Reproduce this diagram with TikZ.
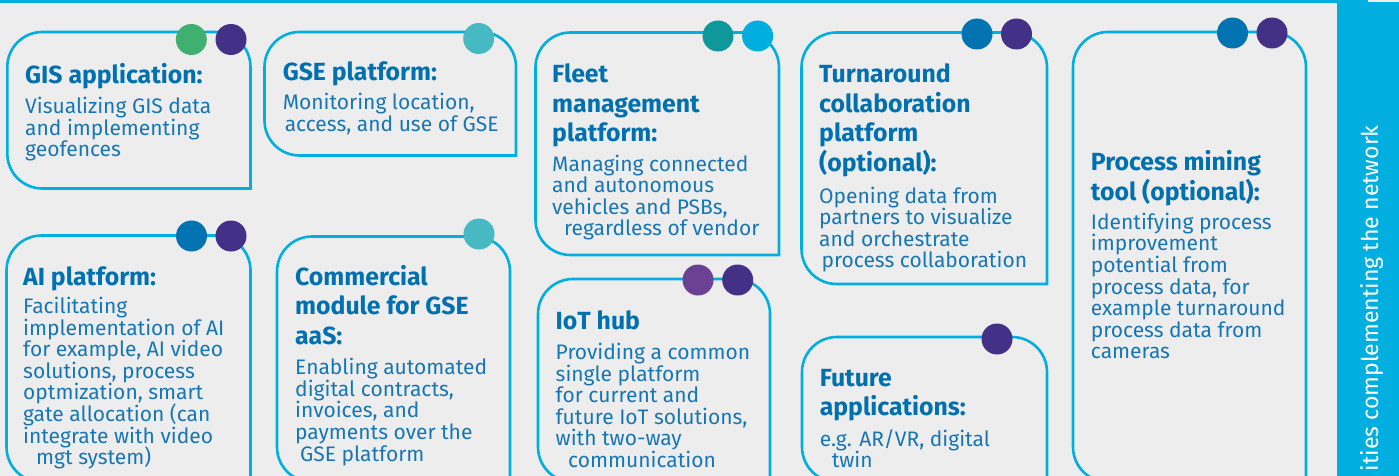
\documentclass[tikz,border=0pt]{standalone}
\usepackage{fontspec}
\newfontfamily\bodyfont{Fira Sans}
\definecolor{bg}{RGB}{237,237,237}
\definecolor{cyanline}{RGB}{0,174,224}
\definecolor{txtblue}{RGB}{0,112,176}
\definecolor{bodyblue}{RGB}{22,118,180}
\definecolor{dgreen}{RGB}{64,176,112}
\definecolor{dpurple}{RGB}{67,48,135}
\definecolor{dteal}{RGB}{70,185,195}
\definecolor{dtealdark}{RGB}{14,152,155}
\definecolor{dblue}{RGB}{0,115,176}
\definecolor{dviolet}{RGB}{107,65,148}
\newcommand\mystack[1]{\vtop{\lineskiplimit=-100pt\lineskip=0pt\let\\\cr\halign{##\hfil\cr#1\crcr}}}
\newcommand\mycard[4]{\draw[cardline] (#3,#4) -- (#1,#4) -- (#1,#2) -- (#3,#2) -- (#3,#4);}
\tikzset{
  cardline/.style={draw=cyanline, line width=2.6, rounded corners=35, line cap=rect},
  dot/.style={circle, inner sep=0, minimum size=31, draw=none},
  titletxt/.style={anchor=base west, inner sep=0, text=txtblue, font=\bodyfont\bfseries\fontsize{24.8}{29.6}\selectfont},
  bodytxt/.style={anchor=base west, inner sep=0, text=bodyblue, font=\bodyfont\fontsize{21}{21.6}\selectfont},
}
\begin{document}
\begin{tikzpicture}[x=1pt,y=-1pt]
\useasboundingbox (0,0) rectangle (1399,476);
\clip (0,0) rectangle (1399,476);
\fill[bg] (0,0) rectangle (1399,476);
% top rule and side band
\draw[cyanline, line width=3] (0,1.8) -- (1368,1.8);
\fill[cyanline] (1337,2) rectangle (1399,476);
\node[rotate=90, anchor=base east, inner sep=0, text=white, font=\bodyfont\fontsize{23.1}{26}\selectfont] (band) at (1378,125) {ities complementing the network};
% cards
\mycard{7.3}{32}{250.5}{188.5}
\mycard{264.5}{32}{516}{155.5}
\mycard{535.5}{32.5}{779}{255}
\mycard{801.5}{32.5}{1047}{284}
\mycard{1073}{32}{1306}{482}
\mycard{6.5}{235.5}{250.5}{482}
\mycard{277}{236.5}{510}{482}
\mycard{538}{279}{770}{482}
\mycard{802}{337}{1047}{482}
% dots
\node[dot, fill=dgreen] (gis-d1) at (191.3,39.5) {};
\node[dot, fill=dpurple] (gis-d2) at (231,39.5) {};
\node[dot, fill=dteal] (gse-d1) at (478.7,38.5) {};
\node[dot, fill=dtealdark] (fleet-d1) at (718,36) {};
\node[dot, fill=cyanline] (fleet-d2) at (757.6,36) {};
\node[dot, fill=dblue] (turn-d1) at (977,34) {};
\node[dot, fill=dpurple] (turn-d2) at (1016.5,34) {};
\node[dot, fill=dblue] (pm-d1) at (1232.5,33) {};
\node[dot, fill=dpurple] (pm-d2) at (1272,33) {};
\node[dot, fill=dblue] (ai-d1) at (191.5,236) {};
\node[dot, fill=dpurple] (ai-d2) at (231,236) {};
\node[dot, fill=dteal] (com-d1) at (479,234) {};
\node[dot, fill=dviolet] (iot-d1) at (698,280) {};
\node[dot, fill=dpurple] (iot-d2) at (737.7,280) {};
\node[dot, fill=dpurple] (fut-d1) at (997,339) {};
% texts
\node[titletxt] (gis-t) at (25,83.5) {\mystack{GIS application:}};
\node[bodytxt] (gis-b) at (25,113.5) {\mystack{Visualizing GIS data\\and implementing\\geofences}};
\node[titletxt] (gse-t) at (282.6,81) {\mystack{GSE platform:}};
\node[bodytxt] (gse-b) at (282.6,110) {\mystack{Monitoring location,\\\hspace{2pt}access, and use of GSE}};
\node[titletxt] (fleet-t) at (552,82.6) {\mystack{Fleet\\management\\platform:}};
\node[bodytxt] (fleet-b) at (552,171) {\mystack{Managing connected\\and autonomous\\vehicles and PSBs,\\\hspace{12pt}regardless of vendor}};
\node[titletxt] (turn-t) at (819,82.6) {\mystack{Turnaround\\collaboration\\platform\\(optional):}};
\node[bodytxt] (turn-b) at (819,203) {\mystack{Opening data from\\partners to visualize\\and orchestrate\\\hspace{2.5pt}process collaboration}};
\node[titletxt] (pm-t) at (1090.7,170.7) {\mystack{Process mining\\tool (optional):}};
\node[bodytxt] (pm-b) at (1090.7,229.3) {\mystack{Identifying process\\improvement\\potential from\\process data, for\\example turnaround\\process data from\\cameras}};
\node[titletxt] (ai-t) at (23,285) {\mystack{AI platform:}};
\node[bodytxt] (ai-b) at (23,313.5) {\mystack{Facilitating\\implementation of AI\\for example, AI video\\solutions, process\\optmization, smart\\gate allocation (can\\integrate with video\\\hspace{13pt}mgt system)}};
\node[titletxt] (com-t) at (295,285) {\mystack{Commercial\\module for GSE\\aaS:}};
\node[bodytxt] (com-b) at (295,374.6) {\mystack{Enabling automated\\digital contracts,\\invoices, and\\payments over the\\\hspace{5pt}GSE platform}};
\node[titletxt] (iot-t) at (555.5,329) {\mystack{IoT hub}};
\node[bodytxt] (iot-b) at (555.5,359.5) {\mystack{Providing a common\\single platform\\for current and\\future IoT solutions,\\with two-way\\\hspace{12.5pt}communication}};
\node[titletxt] (fut-t) at (819.6,386) {\mystack{Future\\applications:}};
\node[bodytxt] (fut-b) at (819.6,446) {\mystack{e.g. AR/VR, digital\\\hspace{12pt}twin}};
\end{tikzpicture}
\end{document}
